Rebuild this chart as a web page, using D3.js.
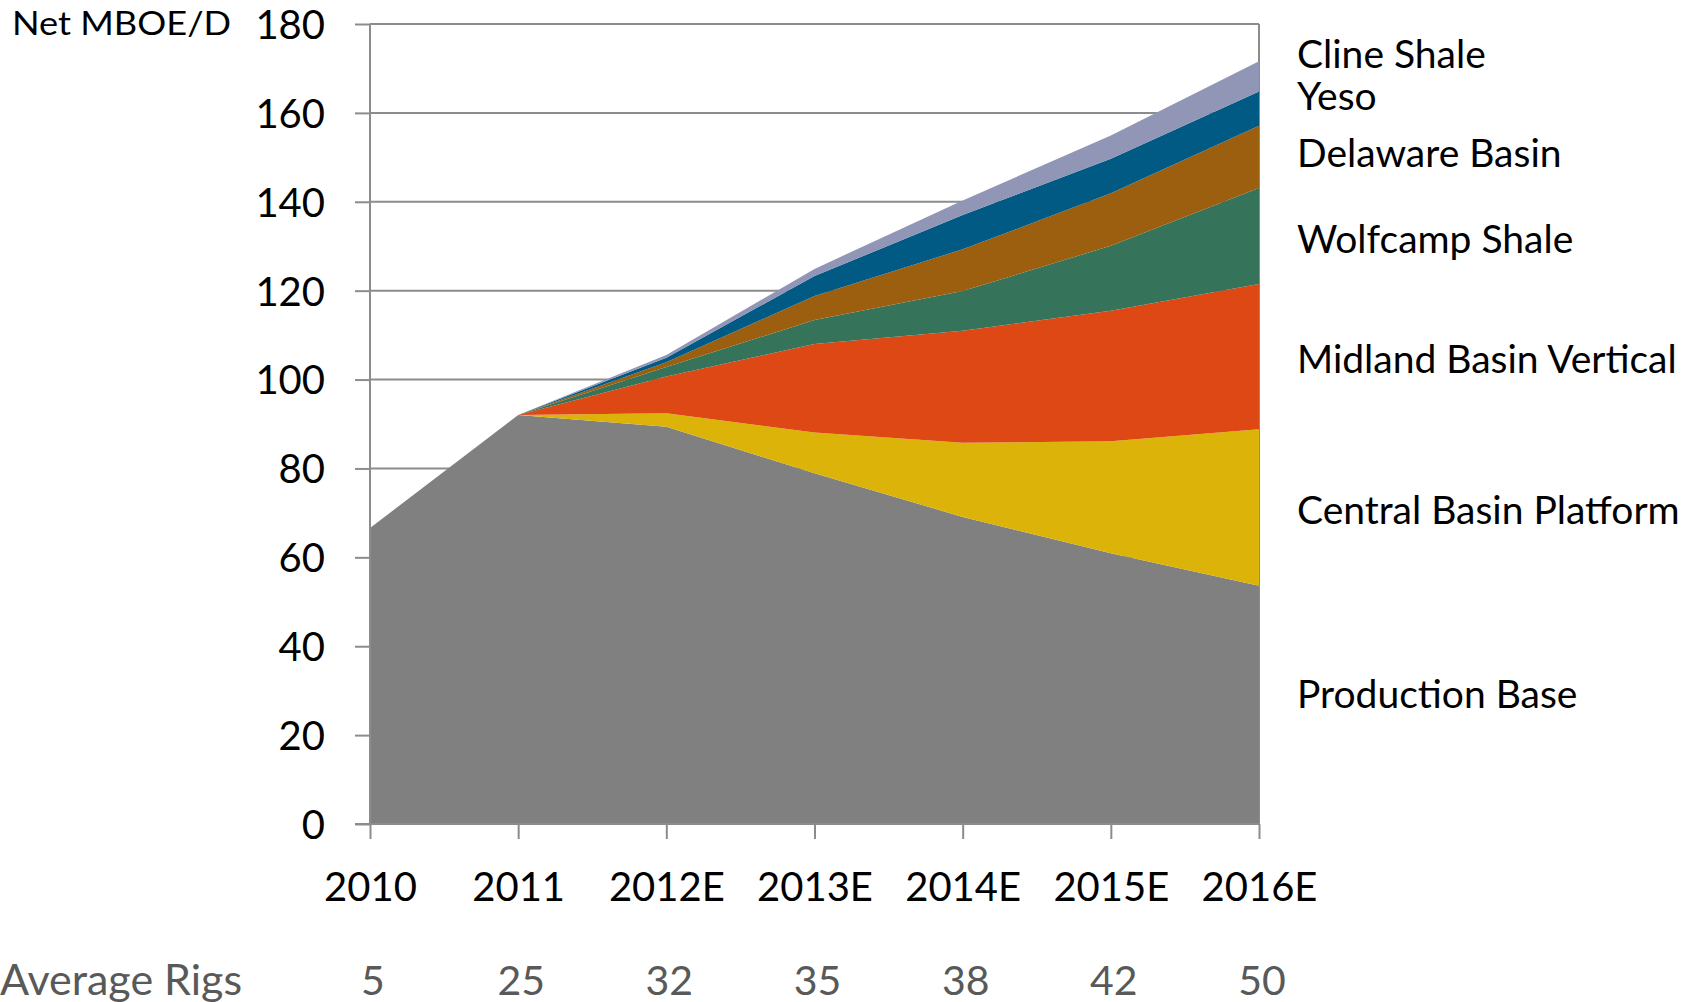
<!DOCTYPE html>
<html>
<head>
<meta charset="utf-8">
<script src="https://cdn.jsdelivr.net/npm/d3@7"></script>
<style>
  html, body { margin: 0; padding: 0; background: #ffffff; }
  svg { display: block; }
  text { font-family: Lato, "Open Sans", sans-serif; }
</style>
</head>
<body>
<svg id="chart" width="1700" height="1002"></svg>
<script>
// ---------------- data ----------------
const years = ["2010", "2011", "2012E", "2013E", "2014E", "2015E", "2016E"];
const averageRigs = [5, 25, 32, 35, 38, 42, 50];

const productionBase       = [66.6, 92.0, 89.4, 78.9, 69.1, 60.9, 53.6];
const centralBasinPlatform = [0, 0, 3.0, 9.2, 16.7, 25.2, 35.2];
const midlandBasinVertical = [0, 0, 8.3, 19.9, 25.2, 29.4, 32.7];
const wolfcampShale        = [0, 0, 2.1, 5.4, 8.9, 14.6, 21.6];
const delawareBasin        = [0, 0, 1.1, 5.4, 9.4, 11.8, 14.0];
const yeso                 = [0, 0, 1.0, 4.5, 7.7, 7.8, 7.7];
const clineShale           = [0, 0, 0.6, 1.6, 3.3, 5.2, 6.8];

const seriesNames = ["Production Base", "Central Basin Platform", "Midland Basin Vertical",
                     "Wolfcamp Shale", "Delaware Basin", "Yeso", "Cline Shale"];
const seriesValues = [productionBase, centralBasinPlatform, midlandBasinVertical,
                      wolfcampShale, delawareBasin, yeso, clineShale];
const yTickValues = [0, 20, 40, 60, 80, 100, 120, 140, 160, 180];
const yAxisTitle = "Net MBOE/D";
const rigsTitle = "Average Rigs";

// ---------------- styles / layout ----------------
const colors = ["#808080", "#dcb309", "#dd4815", "#35735a", "#9b5f0f", "#015a84", "#9195b6"];
const plotLeft = 370, plotRight = 1259, plotTop = 24, plotBottom = 824;
const axisColor = "#8c8c8c";
const labelNudge = {"Cline Shale": -21, "Yeso": -12, "Production Base": -10, "Delaware Basin": -3,
                    "Central Basin Platform": 3, "Midland Basin Vertical": 3, "Wolfcamp Shale": 4};

const svg = d3.select("#chart");

const x = d3.scalePoint().domain(years).range([plotLeft, plotRight]);
const y = d3.scaleLinear().domain([0, 180]).range([plotBottom, plotTop]);

// table for stacking
const table = years.map((yr, i) => {
  const row = {year: yr};
  seriesNames.forEach((n, k) => { row[n] = seriesValues[k][i]; });
  return row;
});
const stacked = d3.stack().keys(seriesNames)(table);

// gridlines
svg.append("g")
  .selectAll("line")
  .data(yTickValues.filter(v => v > 0))
  .join("line")
  .attr("x1", plotLeft).attr("x2", plotRight)
  .attr("y1", d => y(d)).attr("y2", d => y(d))
  .attr("stroke", axisColor).attr("stroke-width", 2);

// right border
svg.append("line")
  .attr("x1", plotRight).attr("x2", plotRight)
  .attr("y1", y(180)).attr("y2", y(0))
  .attr("stroke", axisColor).attr("stroke-width", 2);

// areas
const area = d3.area()
  .x((d, i) => x(years[i]))
  .y0(d => y(d[0]))
  .y1(d => y(d[1]))
  .curve(d3.curveLinear);

svg.append("g")
  .selectAll("path")
  .data(stacked)
  .join("path")
  .attr("d", d => area(d))
  .attr("fill", (d, i) => colors[i]);

// y axis
const yAxis = svg.append("g")
  .attr("transform", `translate(${plotLeft},0)`)
  .call(d3.axisLeft(y).tickValues(yTickValues).tickSize(15).tickPadding(30).tickFormat(d3.format("d")));
yAxis.select(".domain").attr("stroke", axisColor).attr("stroke-width", 2).attr("d", `M0,${plotTop}V${plotBottom}`);
yAxis.selectAll(".tick line").attr("stroke", axisColor).attr("stroke-width", 2);
yAxis.selectAll(".tick text")
  .attr("font-size", 40)
  .attr("fill", "#000")
  .attr("dy", "0.36em")
  .attr("x", -45);

// x axis
const xAxis = svg.append("g")
  .attr("transform", `translate(0,${plotBottom})`)
  .call(d3.axisBottom(x).tickSize(15).tickPadding(10));
xAxis.select(".domain").attr("stroke", axisColor).attr("stroke-width", 2).attr("d", `M${plotLeft - 15},0H${plotRight}`);
xAxis.selectAll(".tick line").attr("stroke", axisColor).attr("stroke-width", 2);
xAxis.selectAll(".tick text")
  .attr("font-size", 40)
  .attr("fill", "#000")
  .attr("y", 77)
  .attr("dy", 0);

// y axis title
svg.append("text")
  .attr("x", 12).attr("y", 35)
  .attr("font-size", 33)
  .attr("textLength", 219)
  .attr("lengthAdjust", "spacingAndGlyphs")
  .attr("fill", "#000")
  .text(yAxisTitle);

// series labels on the right, at the middle of each band at the last year
const last = years.length - 1;
svg.append("g")
  .selectAll("text")
  .data(stacked)
  .join("text")
  .attr("x", 1297)
  .attr("y", d => y((d[last][0] + d[last][1]) / 2) + (labelNudge[d.key] || 0) + 13)
  .attr("font-size", 39)
  .attr("fill", "#000")
  .text(d => d.key);

// Average Rigs row
svg.append("text")
  .attr("x", 0).attr("y", 995)
  .attr("font-size", 43)
  .attr("fill", "#595959")
  .text(rigsTitle);

svg.append("g")
  .selectAll("text")
  .data(averageRigs)
  .join("text")
  .attr("x", (d, i) => x(years[i]) + 3)
  .attr("y", 995)
  .attr("text-anchor", "middle")
  .attr("font-size", 41)
  .attr("fill", "#595959")
  .text(d => d);
</script>
</body>
</html>
